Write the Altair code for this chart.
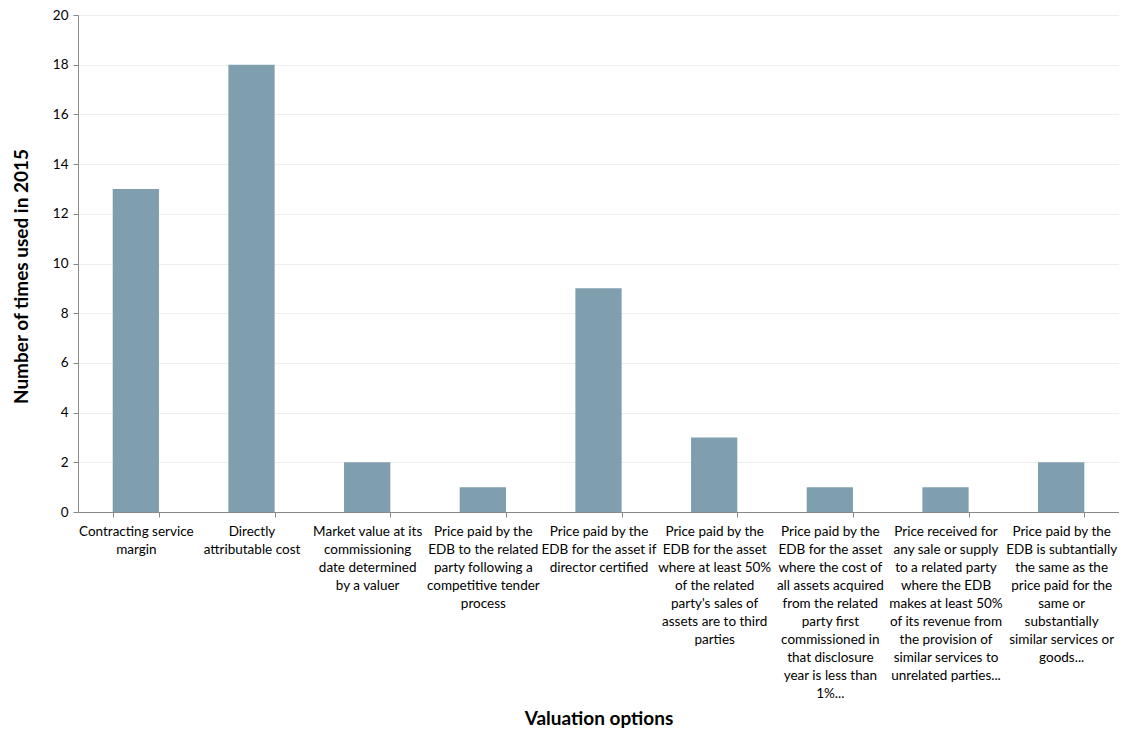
import altair as alt
import pandas as pd

categories = [
    "Contracting service|margin",
    "Directly|attributable cost",
    "Market value at its|commissioning|date determined|by a valuer",
    "Price paid by the|EDB to the related|party following a|competitive tender|process",
    "Price paid by the|EDB for the asset if|director certified",
    "Price paid by the|EDB for the asset|where at least 50%|of the related|party's sales of|assets are to third|parties",
    "Price paid by the|EDB for the asset|where the cost of|all assets acquired|from the related|party first|commissioned in|that disclosure|year is less than|1%...",
    "Price received for|any sale or supply|to a related party|where the EDB|makes at least 50%|of its revenue from|the provision of|similar services to|unrelated parties...",
    "Price paid by the|EDB is subtantially|the same as the|price paid for the|same or|substantially|similar services or|goods...",
]
counts = [13, 18, 2, 1, 9, 3, 1, 1, 2]
y_ticks = [0, 2, 4, 6, 8, 10, 12, 14, 16, 18, 20]

df = pd.DataFrame({"option": categories, "count": counts})

FONT = "Lato"

chart = (
    alt.Chart(df)
    .mark_bar(color="#7f9fae")
    .encode(
        x=alt.X(
            "option:N",
            sort=categories,
            scale=alt.Scale(paddingInner=0.6, paddingOuter=0.3),
            axis=alt.Axis(
                title="Valuation options",
                labelAngle=0,
                labelExpr="split(datum.label, '|')",
                labelLineHeight=18,
                labelBaseline="top",
                labelPadding=7,
                labelLimit=0,
                labelOverlap=False,
                labelFontSize=13.5,
                labelColor="#000000",
                labelFont=FONT,
                tickBand="extent",
                tickSize=5,
                tickColor="#888888",
                domainColor="#888888",
                titleFont=FONT,
                titleFontSize=19,
                titleFontWeight="bold",
                titleColor="#000000",
                titlePadding=10,
            ),
        ),
        y=alt.Y(
            "count:Q",
            scale=alt.Scale(domain=[0, 20], nice=False),
            axis=alt.Axis(
                title="Number of times used in 2015",
                values=y_ticks,
                grid=True,
                gridColor="#eeeeee",
                tickSize=5,
                tickColor="#888888",
                domainColor="#888888",
                labelPadding=5,
                labelFontSize=13.5,
                labelColor="#000000",
                labelFont=FONT,
                titleFont=FONT,
                titleFontSize=19,
                titleFontWeight="bold",
                titleColor="#000000",
                titlePadding=21,
                titleY=261,
            ),
        ),
    )
    .properties(
        width=1041,
        height=497,
        autosize=alt.AutoSizeParams(type="none"),
        padding={"left": 70, "top": 7, "right": 0, "bottom": 220},
    )
    .configure_view(stroke=None)
)

chart.save("out.html", embed_options={"renderer": "svg", "actions": False})
